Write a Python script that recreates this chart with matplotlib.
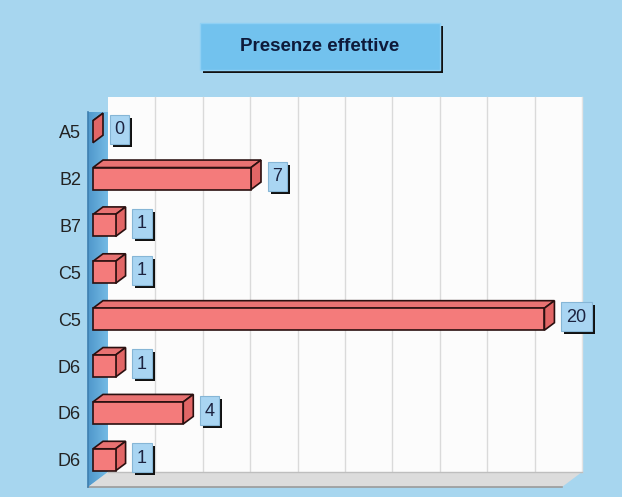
import matplotlib
matplotlib.use("Agg")
import matplotlib.pyplot as plt
import numpy as np
from matplotlib.patches import Polygon, Rectangle
from matplotlib.colors import LinearSegmentedColormap
from matplotlib.transforms import IdentityTransform

plt.rcParams['font.family'] = ['Liberation Sans', 'DejaVu Sans']

categories = ["A5", "B2", "B7", "C5", "C5", "D6", "D6", "D6"]
values = [0, 7, 1, 1, 20, 1, 4, 1]
title = "Presenze effettive"
x_max = 21.0
n_grid = 10

W, H = 622, 497
fig = plt.figure(figsize=(W / 100, H / 100), dpi=100)
fig.patch.set_facecolor('#A7D6EF')

# front plane of the 3D box in pixels
L, R, T, B = 88, 562, 112, 487
ax = fig.add_axes([L / W, (H - B) / H, (R - L) / W, (B - T) / H])
n = len(categories)
ax.patch.set_visible(False)
for s in ax.spines.values():
    s.set_visible(False)

px_x = (R - L) / x_max          # px per value unit
px_y = (B - T) / n              # px per row
DX = 20 / px_x                  # depth offset in data units
DY = 15 / px_y

def P(v, y, d):
    return (v + d * DX, y - d * DY)

top, bot = -0.5, n - 0.5

# back wall
back = Polygon([P(0, top, 1), P(x_max, top, 1), P(x_max, bot, 1), P(0, bot, 1)],
               closed=True, fc='#FCFCFC', ec='none', clip_on=False, zorder=1)
ax.add_patch(back)
for k in range(1, n_grid):
    gx = k * x_max / n_grid
    ax.plot([P(gx, top, 1)[0], P(gx, bot, 1)[0]], [P(gx, top, 1)[1], P(gx, bot, 1)[1]],
            color='#DADADA', lw=1, clip_on=False, zorder=1.5)
ax.plot([P(x_max, top, 1)[0]] * 2, [P(x_max, top, 1)[1], P(x_max, bot, 1)[1]],
        color='#E4E4E4', lw=1, clip_on=False, zorder=1.5)

# left wall with gradient
lw_poly = Polygon([P(0, top, 0), P(0, top, 1), P(0, bot, 1), P(0, bot, 0)],
                  closed=True, fc='none', ec='none', clip_on=False, zorder=2)
ax.add_patch(lw_poly)
grad = np.linspace(0, 1, 50).reshape(1, -1)
cm = LinearSegmentedColormap.from_list('w', ['#4F97CB', '#74BAE4'])
im = ax.imshow(grad, cmap=cm, extent=[0, DX, bot, top - DY], aspect='auto',
               zorder=2, clip_on=True)
im.set_clip_path(lw_poly)
ax.plot([0, 0], [top, bot], color='#3E7FB0', lw=1.2, clip_on=False, zorder=2.2)

# floor
floor = Polygon([P(0, bot, 0), P(0, bot, 1), P(x_max, bot, 1), P(x_max, bot, 0)],
                closed=True, fc='#DCDCDC', ec='none', clip_on=False, zorder=2)
ax.add_patch(floor)
ax.plot([P(0, bot, 1)[0], P(x_max, bot, 1)[0]], [P(0, bot, 1)[1]] * 2,
        color='#BEBEBE', lw=1, clip_on=False, zorder=2.1)
ax.plot([0, x_max], [bot, bot], color='#9A9A9A', lw=1.2, clip_on=False, zorder=2.1)

ax.set_xlim(0, x_max)
ax.set_ylim(n - 0.5, -0.5)

# bars
h = 0.235
d0, d1 = 0.25, 0.75
edge = '#2A1010'
for i, v in enumerate(values):
    y0, y1 = i - h, i + h
    front = Polygon([P(0, y0, d0), P(v, y0, d0), P(v, y1, d0), P(0, y1, d0)],
                    closed=True, fc='#F47B7B', ec=edge, lw=1.2, clip_on=False, zorder=5)
    topf = Polygon([P(0, y0, d0), P(v, y0, d0), P(v, y0, d1), P(0, y0, d1)],
                   closed=True, fc='#E87272', ec=edge, lw=1.2, clip_on=False, zorder=5)
    side = Polygon([P(v, y0, d0), P(v, y0, d1), P(v, y1, d1), P(v, y1, d0)],
                   closed=True, fc='#E26666', ec=edge, lw=1.2, clip_on=False, zorder=5)
    ax.add_patch(topf)
    ax.add_patch(side)
    if v > 0:
        ax.add_patch(front)

    # value label box (pixel-sized, anchored at the bar end)
    lx = P(v, i, d1)[0]
    cy = i - 0.4 * DY
    dx_, dy_ = ax.transData.transform((lx, cy))
    lab = str(v)
    bw, bh = 8 + 11.5 * len(lab), 29
    bx, by = dx_ + 6.5, dy_ - bh / 2
    ax.add_patch(Rectangle((bx + 3, by - 3), bw, bh, transform=IdentityTransform(),
                           fc='#111111', ec='none', clip_on=False, zorder=6))
    ax.add_patch(Rectangle((bx, by), bw, bh, transform=IdentityTransform(),
                           fc='#A9D5F2', ec='#86B6D6', lw=0.8, clip_on=False, zorder=6.1))
    ax.text(bx + bw / 2, dy_ - 0.5, lab, transform=IdentityTransform(), ha='center',
            va='center', fontsize=13, color='#1C2340', zorder=6.2)

ax.set_xticks([])
ax.set_yticks([i - d0 * DY for i in range(n)])
ax.set_yticklabels(categories, fontsize=13, color='#222222')
ax.tick_params(axis='y', length=0, pad=5)

# title box
tx0, tx1, ty0, ty1 = 200, 440, 23, 70
fig.patches.append(Rectangle((tx0 / W + 3 / W, (H - ty1) / H - 3 / H), (tx1 - tx0) / W, (ty1 - ty0) / H,
                             transform=fig.transFigure, fc='#111111', ec='none', zorder=0))
fig.patches.append(Rectangle((tx0 / W, (H - ty1) / H), (tx1 - tx0) / W, (ty1 - ty0) / H,
                             transform=fig.transFigure, fc='#72C2EE', ec='#8FD0F4', lw=1, zorder=1))
fig.text((tx0 + tx1) / 2 / W, 1 - (ty0 + ty1) / 2 / H, title, ha='center', va='center',
         fontsize=13.5, fontweight='bold', color='#0E1A3A')

fig.savefig('out.png', dpi=100, facecolor=fig.get_facecolor())
